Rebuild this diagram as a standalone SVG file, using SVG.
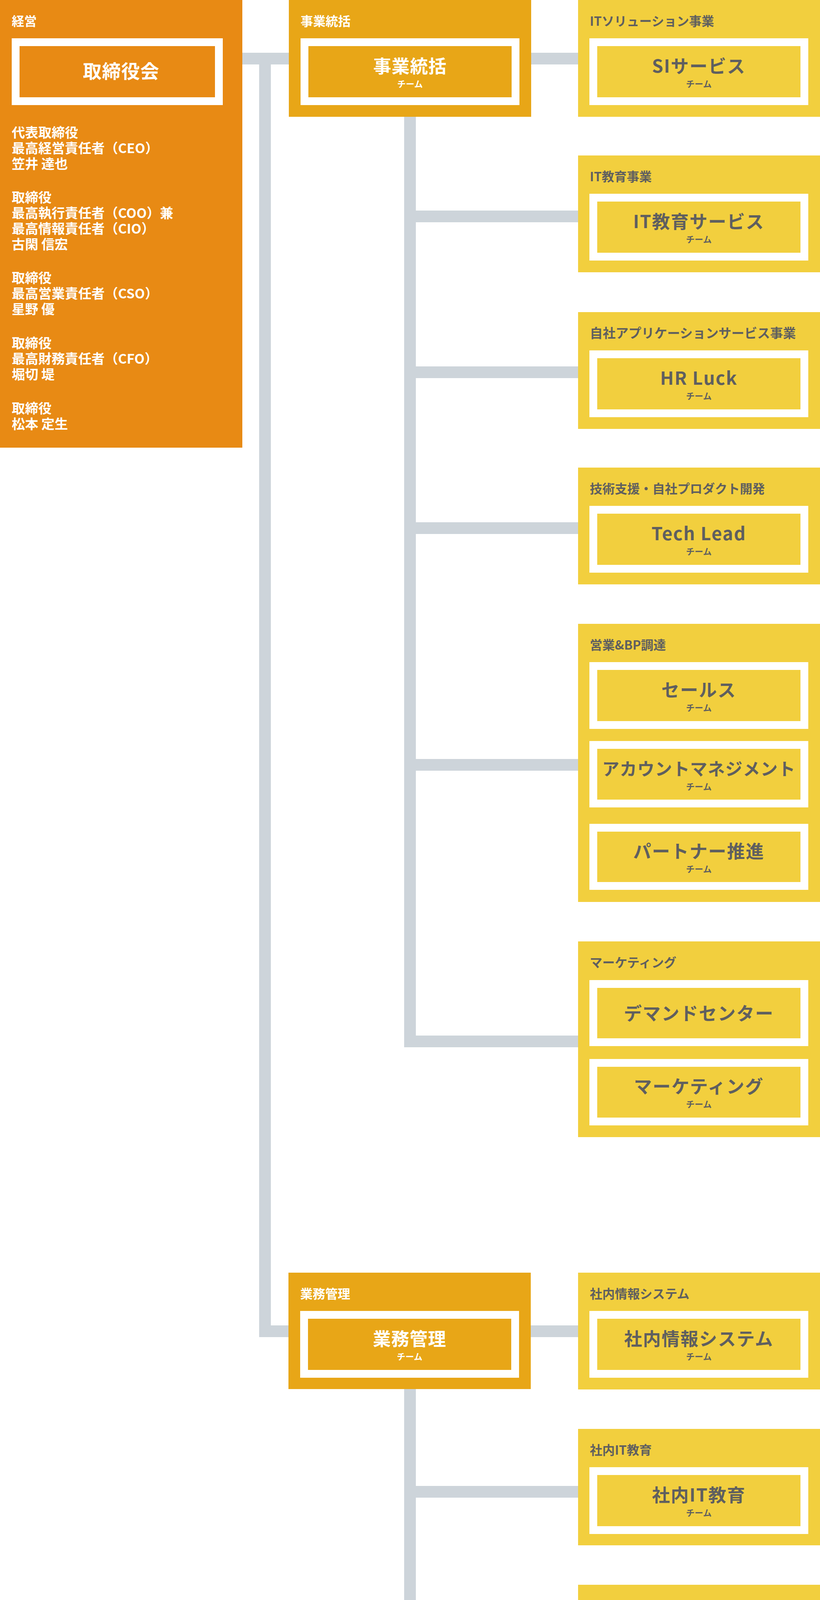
<svg xmlns="http://www.w3.org/2000/svg" width="2098" height="4558" viewBox="0 0 2098 4558">
<style>
text{font-family:"Noto Sans CJK JP","Noto Sans",sans-serif;font-weight:bold}
.o{fill:#E88A14}.g{fill:#E8A617}.y{fill:#F2CF3E}.c{fill:#CDD4DA}
.f{stroke:#fff;stroke-width:20}
.fo{fill:#E88A14}.fg{fill:#E8A617}
.hw{fill:#fff;font-size:32px}.h{fill:#5F5F5F;font-size:32px}
.tw{fill:#fff;font-size:46px;text-anchor:middle;letter-spacing:1px}
.t{fill:#5F5F5F;font-size:46px;text-anchor:middle;letter-spacing:2px}
.sw{fill:#fff;font-size:22px;text-anchor:middle}
.s{fill:#5F5F5F;font-size:22px;text-anchor:middle}
.m{fill:#fff;font-size:34px}
</style>
<g id="connectors">
<rect class="c" x="620" y="135" width="119" height="30"/>
<rect class="c" x="663" y="135" width="30" height="3287"/>
<rect class="c" x="663" y="3393" width="76" height="30"/>
<rect class="c" x="1359" y="135" width="120" height="30"/>
<rect class="c" x="1034" y="299" width="30" height="2382"/>
<rect class="c" x="1034" y="539" width="445" height="30"/>
<rect class="c" x="1034" y="938" width="445" height="30"/>
<rect class="c" x="1034" y="1337" width="445" height="30"/>
<rect class="c" x="1034" y="1943" width="445" height="30"/>
<rect class="c" x="1034" y="2651" width="445" height="30"/>
<rect class="c" x="1358" y="3393" width="121" height="30"/>
<rect class="c" x="1034" y="3556" width="30" height="778"/>
<rect class="c" x="1034" y="3804" width="445" height="30"/>
<rect class="c" x="1034" y="4305" width="445" height="30"/>
</g>
<g id="keiei">
<rect class="o" x="0" y="0" width="620" height="1146"/>
<text class="hw" x="30" y="66">経営</text>
<rect class="f fo" x="40" y="108" width="520" height="151"/>
<text class="tw" x="310" y="200" style="font-size:48px">取締役会</text>
<text class="m" x="30" y="352">代表取締役</text>
<text class="m" x="30" y="392">最高経営責任者（CEO）</text>
<text class="m" x="30" y="432">笠井 達也</text>
<text class="m" x="30" y="518">取締役</text>
<text class="m" x="30" y="558">最高執行責任者（COO）兼</text>
<text class="m" x="30" y="598">最高情報責任者（CIO）</text>
<text class="m" x="30" y="638">古閑 信宏</text>
<text class="m" x="30" y="724">取締役</text>
<text class="m" x="30" y="764">最高営業責任者（CSO）</text>
<text class="m" x="30" y="804">星野 優</text>
<text class="m" x="30" y="891">取締役</text>
<text class="m" x="30" y="931">最高財務責任者（CFO）</text>
<text class="m" x="30" y="971">堀切 堤</text>
<text class="m" x="30" y="1058">取締役</text>
<text class="m" x="30" y="1098">松本 定生</text>
</g>
<g id="jigyo">
<rect class="g" x="739" y="0" width="620" height="299"/>
<text class="hw" x="769" y="66">事業統括</text>
<rect class="f fg" x="779" y="108" width="540" height="151"/>
<text class="tw" x="1049" y="186">事業統括</text>
<text class="sw" x="1049" y="223">チーム</text>
</g>
<g id="si">
<rect class="y" x="1479" y="0" width="619" height="299"/>
<text class="h" x="1509" y="66">ITソリューション事業</text>
<rect class="f y" x="1518" y="108" width="540" height="151"/>
<text class="t" x="1788" y="186">SIサービス</text>
<text class="s" x="1788" y="223">チーム</text>
</g>
<g id="itedu">
<rect class="y" x="1479" y="398" width="619" height="299"/>
<text class="h" x="1509" y="464">IT教育事業</text>
<rect class="f y" x="1518" y="506" width="540" height="151"/>
<text class="t" x="1788" y="584">IT教育サービス</text>
<text class="s" x="1788" y="621">チーム</text>
</g>
<g id="hrluck">
<rect class="y" x="1479" y="799" width="619" height="299"/>
<text class="h" x="1509" y="865" style="font-size:33px">自社アプリケーションサービス事業</text>
<rect class="f y" x="1518" y="907" width="540" height="151"/>
<text class="t" x="1788" y="985">HR Luck</text>
<text class="s" x="1788" y="1022">チーム</text>
</g>
<g id="techlead">
<rect class="y" x="1479" y="1197" width="619" height="299"/>
<text class="h" x="1509" y="1263">技術支援・自社プロダクト開発</text>
<rect class="f y" x="1518" y="1305" width="540" height="151"/>
<text class="t" x="1788" y="1383">Tech Lead</text>
<text class="s" x="1788" y="1420">チーム</text>
</g>
<g id="sales">
<rect class="y" x="1479" y="1597" width="619" height="712"/>
<text class="h" x="1509" y="1663">営業&amp;BP調達</text>
<rect class="f y" x="1518" y="1705" width="540" height="151"/>
<text class="t" x="1788" y="1783">セールス</text>
<text class="s" x="1788" y="1820">チーム</text>
<rect class="f y" x="1518" y="1907" width="540" height="150"/>
<text class="t" x="1788" y="1985" style="font-size:44px;letter-spacing:1px">アカウントマネジメント</text>
<text class="s" x="1788" y="2022">チーム</text>
<rect class="f y" x="1518" y="2119" width="540" height="149"/>
<text class="t" x="1788" y="2196">パートナー推進</text>
<text class="s" x="1788" y="2233">チーム</text>
</g>
<g id="marketing">
<rect class="y" x="1479" y="2410" width="619" height="501"/>
<text class="h" x="1509" y="2476">マーケティング</text>
<rect class="f y" x="1518" y="2519" width="540" height="149"/>
<text class="t" x="1788" y="2611">デマンドセンター</text>
<rect class="f y" x="1518" y="2721" width="540" height="150"/>
<text class="t" x="1788" y="2798">マーケティング</text>
<text class="s" x="1788" y="2835">チーム</text>
</g>
<g id="gyomu">
<rect class="g" x="738" y="3258" width="620" height="298"/>
<text class="hw" x="768" y="3324">業務管理</text>
<rect class="f fg" x="778" y="3366" width="540" height="151"/>
<text class="tw" x="1048" y="3444">業務管理</text>
<text class="sw" x="1048" y="3481">チーム</text>
</g>
<g id="infosys">
<rect class="y" x="1479" y="3258" width="619" height="299"/>
<text class="h" x="1509" y="3324">社内情報システム</text>
<rect class="f y" x="1518" y="3366" width="540" height="151"/>
<text class="t" x="1788" y="3444">社内情報システム</text>
<text class="s" x="1788" y="3481">チーム</text>
</g>
<g id="internal-it">
<rect class="y" x="1479" y="3658" width="619" height="298"/>
<text class="h" x="1509" y="3724">社内IT教育</text>
<rect class="f y" x="1518" y="3766" width="540" height="151"/>
<text class="t" x="1788" y="3844">社内IT教育</text>
<text class="s" x="1788" y="3881">チーム</text>
</g>
<g id="backoffice">
<rect class="y" x="1479" y="4057" width="619" height="501"/>
<text class="h" x="1507" y="4123" style="font-size:31px">総務／庶務／経理／労務管理／人事</text>
<rect class="f y" x="1518" y="4165" width="540" height="151"/>
<text class="t" x="1788" y="4243">バックオフィス</text>
<text class="s" x="1788" y="4280">チーム</text>
<rect class="f y" x="1518" y="4367" width="540" height="150"/>
<text class="t" x="1788" y="4445">人材採用</text>
<text class="s" x="1788" y="4482">チーム</text>
</g>
</svg>
